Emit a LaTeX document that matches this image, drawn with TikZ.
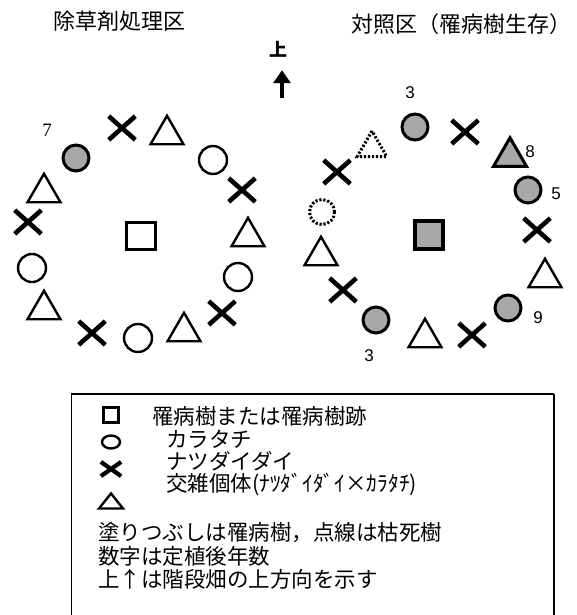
\documentclass[tikz,border=0pt]{standalone}
\usepackage{fontspec}
\newfontfamily\jp{Noto Sans CJK JP}
\newfontfamily\numsans{Liberation Sans}
\newfontfamily\numserif{Liberation Serif}
\usetikzlibrary{shapes.geometric,shapes.misc,arrows.meta,calc}
\definecolor{sickgray}{gray}{0.66}
\begin{document}
\begin{tikzpicture}[x=1pt,y=-1pt,
  ring/.style={circle,draw,line width=2.4pt,minimum size=28pt,inner sep=0pt},
  sick/.style={circle,draw,line width=3pt,fill=sickgray,minimum size=26pt,inner sep=0pt},
  deadring/.style={circle,draw,line width=3pt,dash pattern=on 2.2pt off 1.8pt,minimum size=25pt,inner sep=0pt},
  xmk/.style={cross out,draw,line width=4.6pt,minimum width=22pt,minimum height=19pt,inner sep=0pt},
  tri/.style={regular polygon,regular polygon sides=3,draw,line width=2.4pt,minimum size=38pt,inner sep=0pt,yshift=-4.75pt},
  sicktri/.style={tri,line width=3pt,fill=sickgray},
  deadtri/.style={tri,line width=3pt,dash pattern=on 2.2pt off 1.8pt,minimum size=34pt,yshift=-4.25pt},
  sq/.style={rectangle,draw,line width=2.4pt,minimum width=29pt,minimum height=27pt,inner sep=0pt},
  sicksq/.style={rectangle,draw,line width=3.2pt,fill=sickgray,minimum width=28pt,minimum height=28pt,inner sep=0pt},
  num/.style={font=\numsans\fontsize{17}{17}\selectfont,inner sep=0pt},
  jptext/.style={font=\jp\fontsize{22}{22}\selectfont,inner sep=0pt},
  leg/.style={font=\jp\fontsize{21.5}{22}\selectfont,inner sep=0pt,anchor=west},
  lsym/.style={draw,line width=2.4pt,inner sep=0pt}
]
\useasboundingbox (0,0) rectangle (576,615);

% titles
\node[jptext] (tleft) at (119,21) {除草剤処理区};
\node[jptext] (tright) at (461,24) {対照区（罹病樹生存）};

% up arrow
\node[font=\jp\bfseries\fontsize{18}{18}\selectfont,inner sep=0pt] (up) at (278,49) {上};
\coordinate (arrtail) at (282,98);
\draw[line width=4.6pt,-{Triangle[width=17pt,length=13pt]},shorten >=13pt] (arrtail) -- (arrtail |- up.south);

% left plot
\node[font=\numserif\fontsize{19}{19}\selectfont,inner sep=0pt] (l7) at (47,130) {7};
\node[sick] (lc1) at (76,158) {};
\node[xmk] (lx1) at (122,128) {};
\node[tri] (lt1) at (167,130) {};
\node[ring] (lo1) at (213,160) {};
\node[xmk] (lx2) at (242,190) {};
\node[tri] (lt2) at (248,232) {};
\node[ring] (lo2) at (238,277) {};
\node[xmk] (lx3) at (222,313) {};
\node[tri] (lt3) at (184,327) {};
\node[ring] (lo3) at (138,338) {};
\node[xmk] (lx4) at (92,333) {};
\node[tri] (lt4) at (44,305) {};
\node[ring] (lo4) at (32,268) {};
\node[xmk] (lx5) at (28,222) {};
\node[tri] (lt5) at (44,188) {};
\node[sq] (lsq) at (141,236) {};

% right plot
\node[num] (r3a) at (410,93) {3};
\node[deadtri] (rt1) at (372,139) {};
\node[sick] (rc1) at (415,127) {};
\node[xmk] (rx1) at (465,132) {};
\node[sicktri] (rt2) at (510,152) {};
\node[num] (r8) at (530,152) {8};
\node[sick] (rc2) at (528,190) {};
\node[num] (r5) at (556,194) {5};
\node[xmk] (rx2) at (537,230) {};
\node[tri] (rt3) at (545,273) {};
\node[sick] (rc3) at (508,308) {};
\node[num] (r9) at (538,318) {9};
\node[xmk] (rx3) at (472,335) {};
\node[tri] (rt4) at (425,333) {};
\node[sick] (rc4) at (376,320) {};
\node[num] (r3b) at (369,356) {3};
\node[xmk] (rx4) at (343,290) {};
\node[tri] (rt5) at (321,251) {};
\node[deadring] (ro1) at (322,212) {};
\node[xmk] (rx5) at (337,172) {};
\node[sicksq] (rsq) at (429,235) {};

% legend box
\draw[line width=1.2pt] (71,394) -- (554,394);
\draw[line width=1pt] (71,394) -- (71,617);
\draw[line width=1.2pt] (554,394) -- (554,617);

% legend symbols
\node[lsym,rectangle,minimum width=15pt,minimum height=15pt] (ksq) at (111,415) {};
\node[lsym,ellipse,minimum width=18pt,minimum height=13pt] (kci) at (111,442) {};
\node[cross out,draw,line width=4.2pt,minimum width=16pt,minimum height=10pt,inner sep=0pt] (kx) at (111,469) {};
\coordinate (ktri) at (111,501);
\draw[line width=2.4pt,line join=miter] ($(ktri)+(-12,7.5)$) -- ($(ktri)+(12,7.5)$) -- ($(ktri)+(0,-7.5)$) -- cycle;

% legend texts
\node[leg] (k1) at (152,416) {罹病樹または罹病樹跡};
\node[leg] (k2) at (166,439) {カラタチ};
\node[leg] (k3) at (166,461) {ナツダイダイ};
\node[leg] (k4) at (166,484) {交雑個体(ﾅﾂﾀﾞｲﾀﾞｲ×ｶﾗﾀﾁ)};
\node[leg] (k5) at (98,533) {塗りつぶしは罹病樹，点線は枯死樹};
\node[leg] (k6) at (98,556) {数字は定植後年数};
\node[leg] (k7) at (98,579) {上↑は階段畑の上方向を示す};
\end{tikzpicture}
\end{document}
